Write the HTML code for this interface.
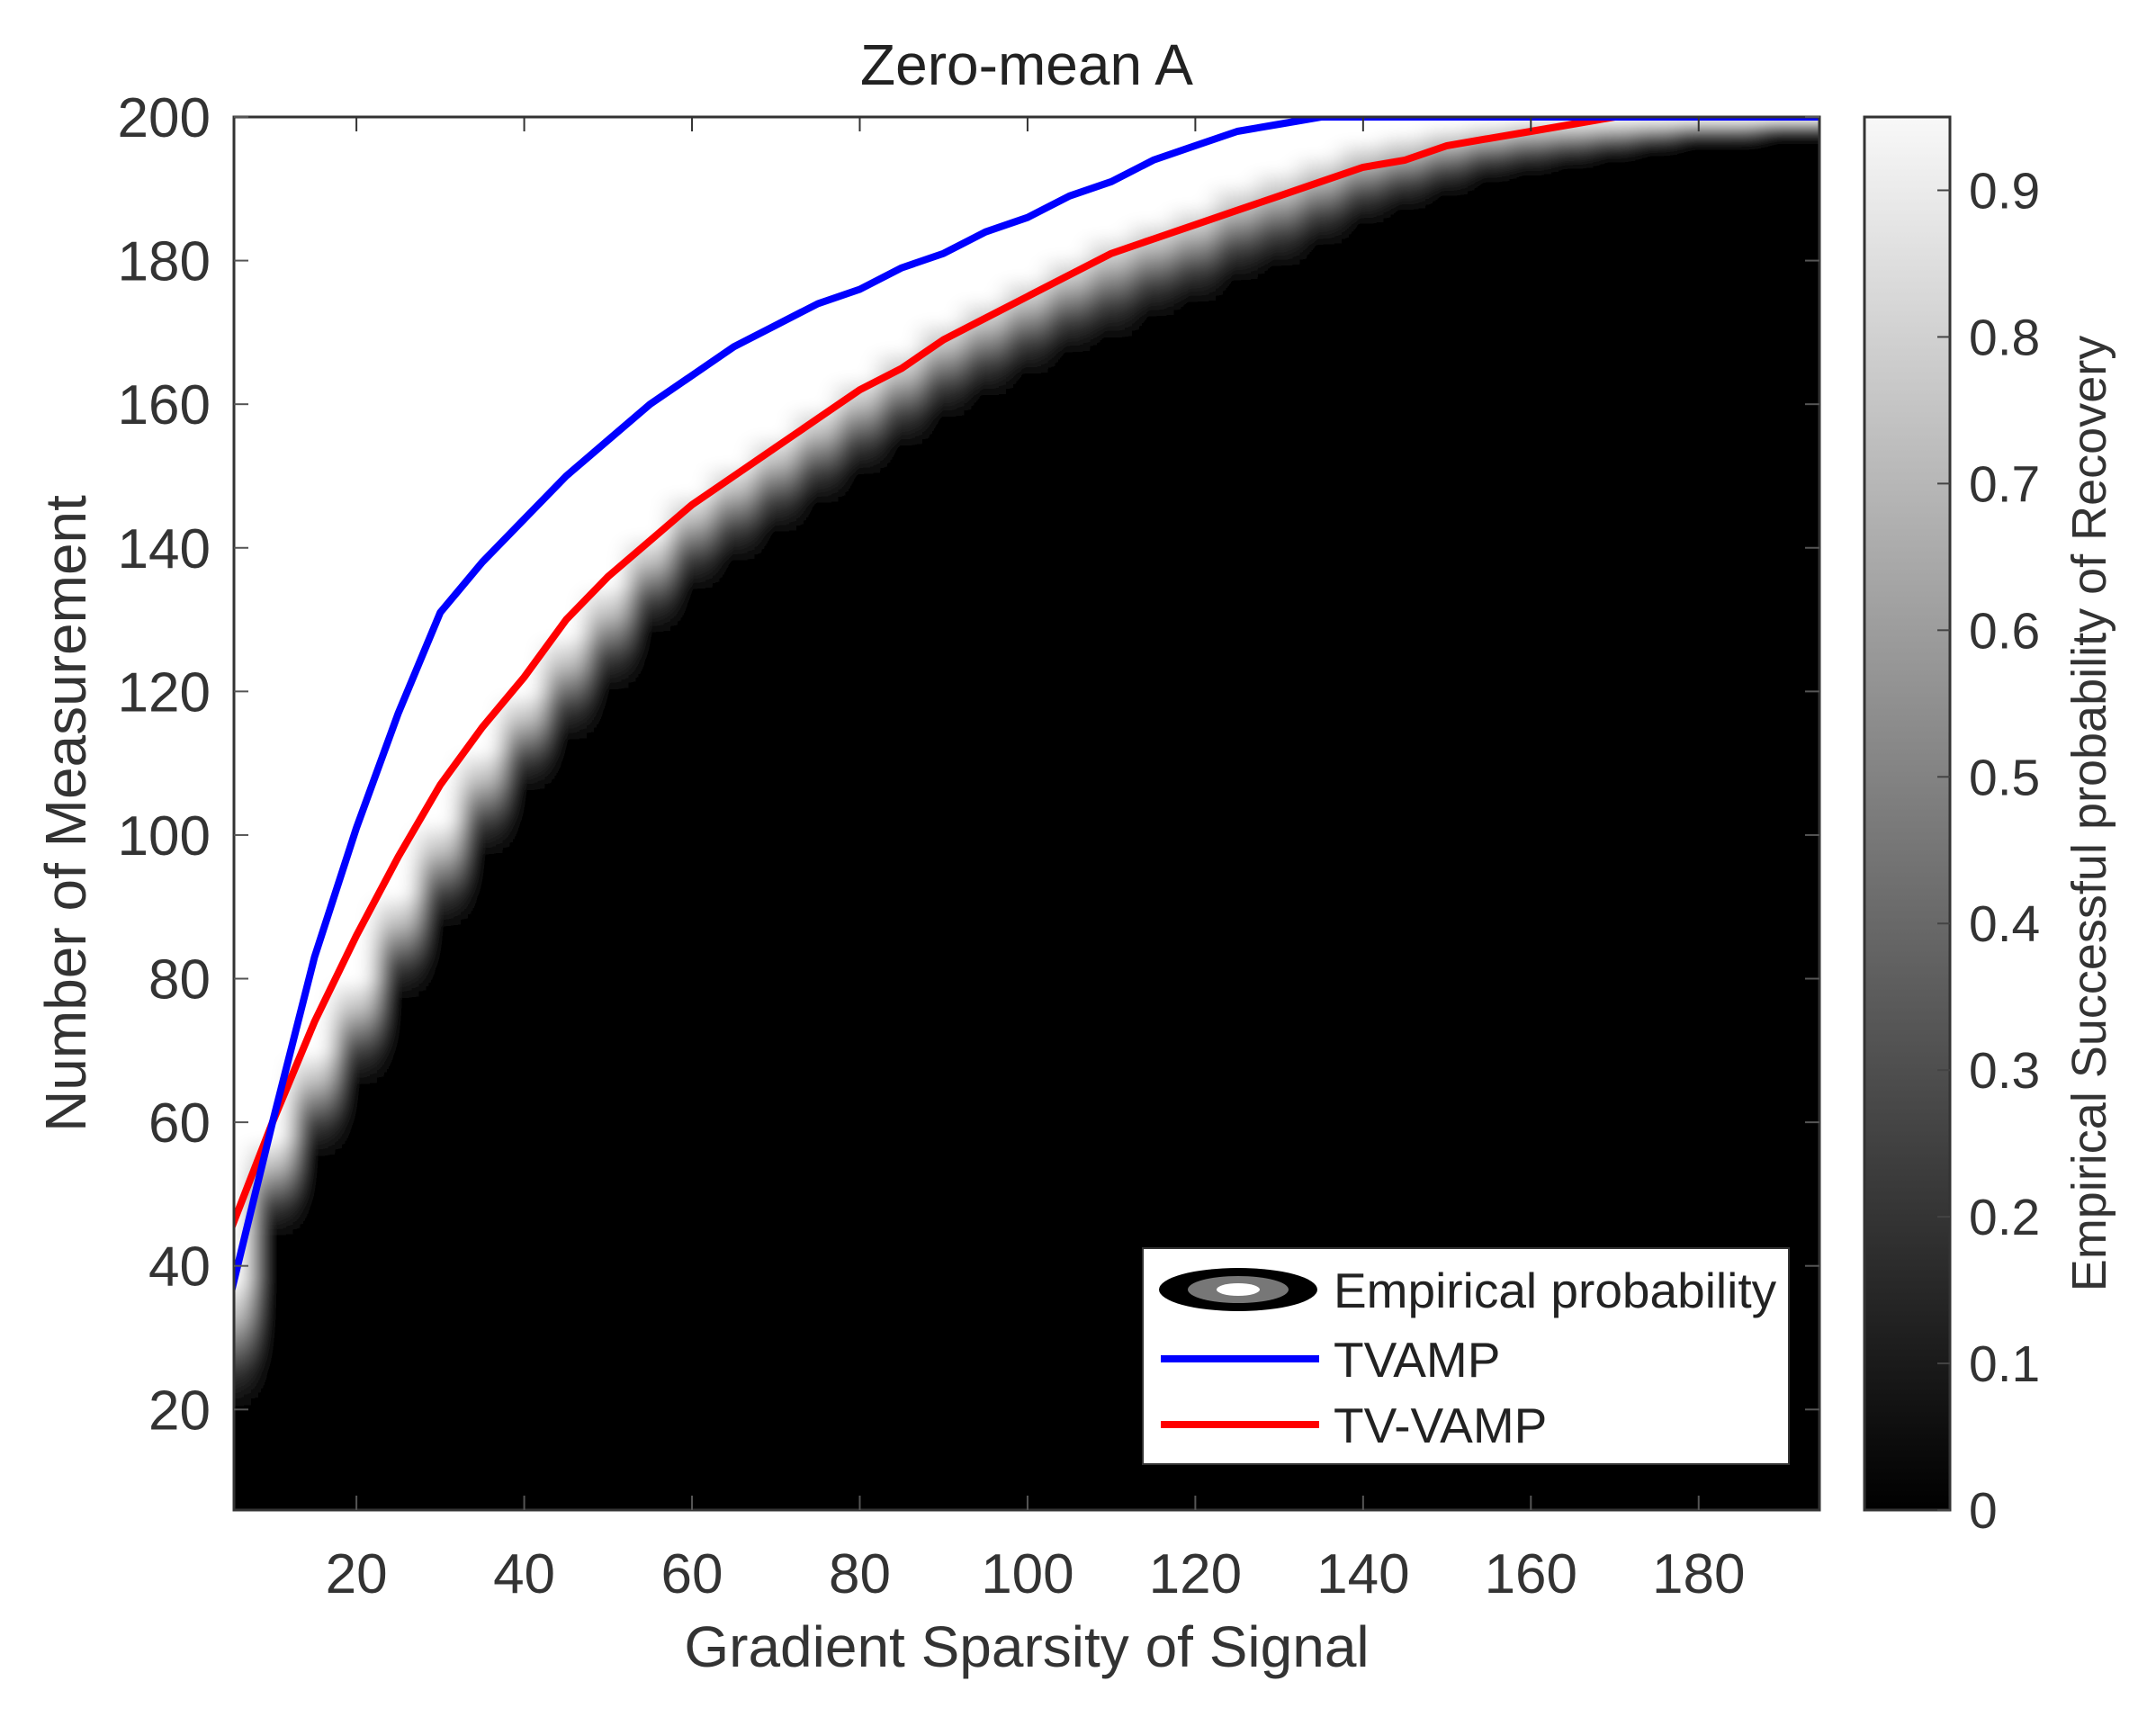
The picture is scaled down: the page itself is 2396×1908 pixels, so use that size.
<!DOCTYPE html>
<html><head><meta charset="utf-8"><style>
html,body{margin:0;padding:0;background:#fff;}
svg{display:block;font-family:"Liberation Sans",Arial,sans-serif;}
</style></head><body>
<svg id="chart" width="2396" height="1908" viewBox="0 0 2396 1908">
<defs>
<linearGradient id="cbgrad" x1="0" y1="1" x2="0" y2="0">
<stop offset="0" stop-color="#000"/><stop offset="1" stop-color="#f8f8f8"/>
</linearGradient>
<clipPath id="plotclip"><rect x="260" y="130" width="1762" height="1548"/></clipPath>
<filter id="soft" x="-5%" y="-5%" width="110%" height="110%"><feGaussianBlur stdDeviation="12 6"/></filter>
</defs>
<text x="1141" y="94" font-size="64" text-anchor="middle" fill="#222">Zero-mean A</text>
<g clip-path="url(#plotclip)"><rect x="260" y="130" width="1762" height="1548" fill="#fff"/><g id="heat" filter="url(#soft)"></g></g>
<g id="lines" clip-path="url(#plotclip)"></g>
<rect x="260" y="130" width="1762" height="1548" fill="none" stroke="#333" stroke-width="3"/>
<g id="axes"></g>
<text x="1141" y="1852" font-size="64" text-anchor="middle" fill="#333">Gradient Sparsity of Signal</text>
<text transform="translate(95,904) rotate(-90)" font-size="64" text-anchor="middle" fill="#333">Number of Measurement</text>
<rect x="2072" y="130" width="95" height="1548" fill="url(#cbgrad)" stroke="#333" stroke-width="3"/>
<g id="cbticks"></g>
<text transform="translate(2340,904) rotate(-90)" font-size="54" text-anchor="middle" fill="#333">Empirical Successful probability of Recovery</text>
<g>
<rect x="1270" y="1387" width="718" height="240" fill="#fff" stroke="#333" stroke-width="2"/>
<ellipse cx="1376" cy="1433" rx="88" ry="24" fill="#000"/>
<ellipse cx="1376" cy="1433" rx="56" ry="15" fill="#777"/>
<ellipse cx="1376" cy="1433" rx="24" ry="7" fill="#fff"/>
<text x="1482" y="1453" font-size="55" fill="#222">Empirical probability</text>
<line x1="1290" y1="1510" x2="1466" y2="1510" stroke="#0000ff" stroke-width="8"/>
<text x="1482" y="1530" font-size="55" fill="#222">TVAMP</text>
<line x1="1290" y1="1583" x2="1466" y2="1583" stroke="#ff0000" stroke-width="8"/>
<text x="1482" y="1603" font-size="55" fill="#222">TV-VAMP</text>
</g>
</svg>
<script>
const sparsity = [5,10,15,20,25,30,35,40,45,50,55,60,65,70,75,80,85,90,95,100,105,110,115,120,125,130,135,140,145,150,155,160,165,170,175,180,185,190,195];
const tvampM = [36,60,83,101,117,131,138,144,150,155,160,164,168,171,174,176,179,181,184,186,189,191,194,196,198,199,200,200,200,200,200,200,200,200,200,200,200,200,200];
const tvvampM = [45,60,74,86,97,107,115,122,130,136,141,146,150,154,158,162,165,169,172,175,178,181,183,185,187,189,191,193,194,196,197,198,199,200,200,200,200,200,200];
const blackEdge = [20,44,55,65,77,87,97,106,113,120,128,134,138,142,146,150,154,158,161,164,167,169,172,174,177,179,182,185,187,189,191,192,193,194,195,196,196,197,197];
const whiteEdge = [38,58,70,80,92,102,112,120,128,135,142,148,152,156,160,164,168,172,175,178,181,184,186,188,191,193,195,197,198,199,199.5,200,200,200,200,200,200,200,200];
const xTicks = [20,40,60,80,100,120,140,160,180];
const yTicks = [20,40,60,80,100,120,140,160,180,200];
const cbTicks = [0,0.1,0.2,0.3,0.4,0.5,0.6,0.7,0.8,0.9];

const X0=260,X1=2022,Y0=1678,Y1=130;
const xmin=5.4,xmax=194.4,ymin=6,ymax=200;
function sx(v){return X0+(v-xmin)/(xmax-xmin)*(X1-X0);}
function sy(v){return Y0-(v-ymin)/(ymax-ymin)*(Y0-Y1);}
function cy(v){return 1678-v/0.95*1548;}
const NS='http://www.w3.org/2000/svg';
function mk(tag,attrs,parent){const e=document.createElementNS(NS,tag);for(const k in attrs)e.setAttribute(k,attrs[k]);parent.appendChild(e);return e;}
const svg=document.getElementById('chart');
const defs=svg.querySelector('defs');
const heat=document.getElementById('heat');
sparsity.forEach((s,i)=>{
  let left=sx(s-2.5), right=sx(s+2.5);
  if(i===0) left-=60;
  if(i===sparsity.length-1) right+=60;
  const yb=sy(blackEdge[i]), yw=sy(whiteEdge[i]);
  const gid='g'+i;
  const g=mk('linearGradient',{id:gid,gradientUnits:'userSpaceOnUse',x1:0,y1:yb,x2:0,y2:yw},defs);
  mk('stop',{offset:0,'stop-color':'#000'},g);
  mk('stop',{offset:0.3,'stop-color':'#3a3a3a'},g);
  mk('stop',{offset:0.7,'stop-color':'#bbb'},g);
  mk('stop',{offset:1,'stop-color':'#fff'},g);
  const r=mk('rect',{x:left-0.5,y:Y1-60,width:right-left+1,height:Y0-Y1+120,fill:'url(#'+gid+')'},heat);
  
  
});
const lines=document.getElementById('lines');
function drawLine(vals,color,name){
  const pts=sparsity.map((s,i)=>sx(s).toFixed(1)+','+sy(vals[i]).toFixed(1)).join(' ');
  const p=mk('polyline',{points:pts,fill:'none',stroke:color,'stroke-width':8,'stroke-linejoin':'round'},lines);
  
  
}
drawLine(tvvampM,'#ff0000','tv-vamp-line');
drawLine(tvampM,'#0000ff','tvamp-line');
const axes=document.getElementById('axes');
xTicks.forEach(t=>{
  const x=sx(t);
  mk('line',{x1:x,y1:Y0,x2:x,y2:Y0-16,stroke:'#555','stroke-width':2},axes);
  mk('line',{x1:x,y1:Y1,x2:x,y2:Y1+16,stroke:'#333','stroke-width':2},axes);
  const tx=mk('text',{x:x,y:1770,'font-size':62,'text-anchor':'middle',fill:'#333'},axes);
  tx.textContent=t;
  
  
});
yTicks.forEach(t=>{
  const y=sy(t);
  mk('line',{x1:X0,y1:y,x2:X0+16,y2:y,stroke:'#555','stroke-width':2},axes);
  mk('line',{x1:X1,y1:y,x2:X1-16,y2:y,stroke:'#555','stroke-width':2},axes);
  const tx=mk('text',{x:234,y:y+22,'font-size':62,'text-anchor':'end',fill:'#333'},axes);
  tx.textContent=t;
  
  
});
const cbt=document.getElementById('cbticks');
cbTicks.forEach(t=>{
  const y=cy(t);
  mk('line',{x1:2167,y1:y,x2:2153,y2:y,stroke:'#444','stroke-width':2},cbt);
  const tx=mk('text',{x:2188,y:y+20,'font-size':57,fill:'#333'},cbt);
  tx.textContent=String(t);
  
  
});
</script>
</body></html>
